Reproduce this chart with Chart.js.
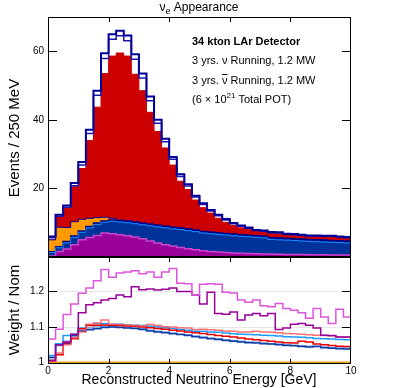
<!DOCTYPE html>
<html>
<head>
<meta charset="utf-8">
<title>nu_e appearance</title>
<script src="https://cdn.jsdelivr.net/npm/chart.js@4.4.1/dist/chart.umd.min.js"></script>
<style>
  body { margin: 0; background: #fff; }
  #wrap { position: relative; width: 399px; height: 388px; }
  canvas { position: absolute; left: 0; }
  #top { top: 0; }
  #bottom { top: 257px; }
</style>
</head>
<body>
<div id="wrap">
  <canvas id="top" width="399" height="258"></canvas>
  <canvas id="bottom" width="399" height="131"></canvas>
</div>
<script>
Chart.defaults.font.family = '"Liberation Sans", Arial, sans-serif';
Chart.defaults.color = '#000';

// 40 bins of 250 MeV, 0 - 10 GeV
const nBins = 40;
const binWidth = 0.25;
const binEdges = [];
for (let i = 0; i <= nBins; i++) binEdges.push(+(i * binWidth).toFixed(2));

const xTickVals = [0, 2, 4, 6, 8, 10];
const topTickVals = [20, 40, 60];
const ratioTickVals = [1, 1.1, 1.2];

// stacked components, events per bin (bottom to top)
const bkgPurple = [0.3, 1.6, 2.3, 3.6, 5.0, 5.7, 6.3, 7.0, 6.8, 6.5, 6.2, 5.8, 5.3, 4.7, 4.1, 3.6, 3.2, 2.8, 2.4, 2.1,
                   1.8, 1.6, 1.45, 1.3, 1.2, 1.1, 1.0, 0.95, 0.9, 0.85, 0.8, 0.75, 0.72, 0.7, 0.67, 0.65, 0.62, 0.6, 0.58, 0.55];
const bkgBlue = [1.2, 1.4, 2.2, 2.5, 2.6, 3.2, 3.6, 3.5, 4.0, 4.1, 4.2, 4.3, 4.5, 4.8, 5.1, 5.3, 5.4, 5.6, 5.7, 5.7,
                 5.6, 5.6, 5.55, 5.5, 5.4, 5.35, 5.3, 5.2, 5.1, 4.75, 4.7, 4.65, 4.58, 4.45, 4.38, 4.3, 4.23, 4.15, 4.12, 4.05];
const bkgOrange = [3.5, 5.7, 4.1, 4.2, 3.4, 2.4, 1.6, 1.1, 0.5, 0.15, 0.15, 0.15, 0.14, 0.13, 0.12, 0.12, 0.11, 0.11, 0.1, 0.1,
                   0.1, 0.1, 0.1, 0.1, 0.1, 0.1, 0.1, 0.1, 0.1, 0.1, 0.1, 0.1, 0.1, 0.1, 0.1, 0.1, 0.1, 0.1, 0.1, 0.1];
const signalRed = [0, 3.1, 5.6, 10.2, 14.8, 22.7, 32.2, 41.9, 47.3, 48.75, 48.05, 43.05, 38.56, 32.57, 27.28, 22.78, 18.09, 13.59, 11.5, 8.7,
                   6.9, 5.5, 4.2, 3.2, 2.5, 1.95, 1.6, 1.3, 1.25, 1.2, 1.15, 1.1, 1.0, 1.0, 0.95, 0.9, 0.9, 0.85, 0.8, 0.8];

// weighted totals (outlines)
const weightedOuter = [6.0, 12.3, 15.0, 21.6, 27.7, 37.1, 48.5, 59.4, 65.0, 66.0, 64.6, 59.1, 53.5, 46.8, 40.0, 34.5, 29.2, 24.1, 21.2, 17.9,
                       15.7, 13.7, 12.3, 11.1, 9.9, 9.2, 8.6, 7.9, 7.7, 7.3, 7.2, 6.8, 6.7, 6.5, 6.3, 6.3, 6.2, 6.2, 6.0, 5.8];
const weightedInner = [5.6, 11.9, 14.5, 20.8, 26.8, 36.0, 47.2, 57.9, 63.5, 64.5, 63.1, 57.7, 52.2, 45.6, 39.0, 33.6, 28.5, 23.5, 20.7, 17.5,
                       15.3, 13.4, 12.0, 10.8, 9.7, 9.0, 8.4, 7.7, 7.5, 7.1, 7.0, 6.6, 6.5, 6.35, 6.15, 6.15, 6.05, 6.05, 5.85, 5.65];
const blueVarLine = [1.3, 2.7, 4.1, 5.7, 7.2, 8.5, 9.5, 10.1, 10.4, 10.2, 10.0, 9.7, 9.4, 9.1, 8.8, 8.5, 8.2, 8.0, 7.7, 7.4,
                     7.0, 6.8, 6.6, 6.4, 6.2, 6.05, 5.9, 5.75, 5.6, 5.1, 5.0, 4.9, 4.8, 4.65, 4.55, 4.45, 4.35, 4.25, 4.2, 4.1];

// weight / nominal ratios
const ratioMagenta = [1.066, 1.094, 1.135, 1.165, 1.195, 1.210, 1.230, 1.262, 1.240, 1.252, 1.255, 1.258, 1.250, 1.255, 1.240, 1.255, 1.265, 1.223, 1.222, 1.190,
                      1.220, 1.222, 1.220, 1.198, 1.196, 1.176, 1.170, 1.176, 1.160, 1.157, 1.166, 1.152, 1.147, 1.140, 1.125, 1.152, 1.128, 1.110, 1.150, 1.128];
const ratioPurple = [1.005, 1.050, 1.058, 1.080, 1.140, 1.163, 1.168, 1.176, 1.180, 1.190, 1.185, 1.213, 1.205, 1.207, 1.204, 1.206, 1.210, 1.200, 1.200, 1.190,
                     1.165, 1.198, 1.138, 1.136, 1.142, 1.120, 1.134, 1.138, 1.132, 1.138, 1.093, 1.097, 1.108, 1.110, 1.105, 1.097, 1.077, 1.076, 1.072, 1.072];
const ratioPink = [1.004, 1.027, 1.050, 1.070, 1.086, 1.108, 1.111, 1.120, 1.108, 1.107, 1.106, 1.104, 1.103, 1.107, 1.104, 1.101, 1.100, 1.098, 1.097, 1.093,
                   1.094, 1.092, 1.091, 1.089, 1.088, 1.086, 1.086, 1.088, 1.086, 1.085, 1.084, 1.082, 1.081, 1.080, 1.078, 1.077, 1.076, 1.075, 1.073, 1.072];
const ratioRed = [1.006, 1.022, 1.056, 1.067, 1.095, 1.104, 1.105, 1.106, 1.105, 1.104, 1.103, 1.102, 1.100, 1.098, 1.096, 1.094, 1.091, 1.089, 1.086, 1.084,
                  1.082, 1.079, 1.076, 1.074, 1.072, 1.069, 1.066, 1.064, 1.062, 1.060, 1.058, 1.056, 1.055, 1.060, 1.058, 1.052, 1.050, 1.048, 1.046, 1.045];
const ratioLightBlue = [1.020, 1.053, 1.076, 1.080, 1.097, 1.106, 1.110, 1.110, 1.108, 1.108, 1.106, 1.105, 1.104, 1.102, 1.100, 1.098, 1.096, 1.093, 1.091, 1.088,
                        1.088, 1.086, 1.085, 1.083, 1.081, 1.080, 1.079, 1.078, 1.077, 1.076, 1.075, 1.073, 1.072, 1.071, 1.070, 1.068, 1.067, 1.066, 1.065, 1.064];
const ratioDarkBlue = [1.015, 1.050, 1.053, 1.076, 1.088, 1.092, 1.095, 1.099, 1.100, 1.099, 1.097, 1.096, 1.093, 1.089, 1.086, 1.084, 1.081, 1.079, 1.076, 1.073,
                       1.070, 1.067, 1.065, 1.062, 1.060, 1.058, 1.056, 1.055, 1.053, 1.052, 1.050, 1.048, 1.047, 1.045, 1.044, 1.045, 1.042, 1.040, 1.039, 1.038];
const ratioSteel = [1.010, 1.048, 1.060, 1.072, 1.091, 1.097, 1.100, 1.102, 1.101, 1.100, 1.099, 1.097, 1.095, 1.091, 1.088, 1.086, 1.083, 1.080, 1.078, 1.075,
                    1.072, 1.069, 1.067, 1.064, 1.062, 1.060, 1.058, 1.057, 1.055, 1.053, 1.052, 1.050, 1.049, 1.047, 1.046, 1.046, 1.044, 1.042, 1.041, 1.040];
const ratioOrange = [1, 1, 1, 1, 1, 1, 1, 1, 1, 1, 1, 1, 1, 1, 1, 1, 1, 1, 1, 1,
                     1, 1, 1, 1, 1, 1, 1, 1, 1, 1, 1, 1, 1, 1, 1, 1, 1, 1, 1, 1];

// stack the components
const cumPurple = bkgPurple.slice();
const cumBlue = cumPurple.map((v, i) => v + bkgBlue[i]);
const cumOrange = cumBlue.map((v, i) => v + bkgOrange[i]);
const cumRed = cumOrange.map((v, i) => v + signalRed[i]);

// histogram as step points on the bin edges
function histPoints(vals) {
    const pts = vals.map((v, i) => ({ x: binEdges[i], y: v }));
    pts.push({ x: binEdges[nBins], y: vals[vals.length - 1] });
    return pts;
}

function stepLine(vals, color, width, order, extra) {
    return Object.assign({
        data: histPoints(vals),
        borderColor: color,
        borderWidth: width,
        stepped: true,
        pointRadius: 0,
        fill: false,
        order: order
    }, extra || {});
}

// frame with inward ticks and y labels, ROOT style
const frameTicks = {
    id: 'frameTicks',
    beforeDatasetsDraw(chart, args, opts) {
        const { ctx, chartArea: a, scales: { y } } = chart;
        if (!opts.grid) return;
        ctx.save();
        ctx.strokeStyle = '#e6e6e6';
        ctx.lineWidth = 1;
        opts.grid.forEach(v => {
            const py = Math.round(y.getPixelForValue(v)) + 0.5;
            ctx.beginPath();
            ctx.moveTo(a.left, py);
            ctx.lineTo(a.right, py);
            ctx.stroke();
        });
        ctx.restore();
    },
    afterDatasetsDraw(chart, args, opts) {
        const { ctx, chartArea: a, scales: { x, y } } = chart;
        ctx.save();
        ctx.strokeStyle = '#000';
        ctx.lineWidth = 1;
        ctx.strokeRect(a.left + 0.5, a.top + 0.5, a.width - 1, a.height - 1);
        ctx.beginPath();
        opts.yTicks.forEach(v => {
            const py = Math.round(y.getPixelForValue(v)) + 0.5;
            ctx.moveTo(a.left, py); ctx.lineTo(a.left + 9, py);
            ctx.moveTo(a.right, py); ctx.lineTo(a.right - 9, py);
        });
        [2, 4, 6, 8].forEach(v => {
            const px = Math.round(x.getPixelForValue(v)) + 0.5;
            ctx.moveTo(px, a.top); ctx.lineTo(px, a.top + 5);
            if (opts.bottomTicks) { ctx.moveTo(px, a.bottom); ctx.lineTo(px, a.bottom - 5); }
        });
        ctx.stroke();

        // y tick labels
        ctx.fillStyle = '#000';
        ctx.font = '10px "Liberation Sans", Arial, sans-serif';
        ctx.textAlign = 'right';
        ctx.textBaseline = 'middle';
        opts.yLabels.forEach(v => {
            ctx.fillText(opts.fmt(v), a.left - 4, y.getPixelForValue(v));
        });
        ctx.restore();
    }
};

const topText = {
    id: 'topText',
    afterDraw(chart) {
        const ctx = chart.ctx;
        const reg = '11px "Liberation Sans", Arial, sans-serif';
        ctx.save();
        ctx.fillStyle = '#000';
        ctx.textBaseline = 'middle';

        // title
        ctx.font = '12px "Liberation Sans", Arial, sans-serif';
        const wNu = ctx.measureText('\u03bd').width;
        const wRest = ctx.measureText(' Appearance').width;
        ctx.font = '9px "Liberation Sans", Arial, sans-serif';
        const wSub = ctx.measureText('e').width;
        let tx = 199 - (wNu + wSub + wRest) / 2;
        ctx.font = '12px "Liberation Sans", Arial, sans-serif';
        ctx.fillText('\u03bd', tx, 8);
        ctx.font = '9px "Liberation Sans", Arial, sans-serif';
        ctx.fillText('e', tx + wNu, 12);
        ctx.font = '12px "Liberation Sans", Arial, sans-serif';
        ctx.fillText(' Appearance', tx + wNu + wSub, 8);

        // info box
        const x0 = 192;
        ctx.font = 'bold 11px "Liberation Sans", Arial, sans-serif';
        ctx.fillText('34 kton LAr Detector', x0, 42);
        ctx.font = reg;
        ctx.fillText('3 yrs. \u03bd Running, 1.2 MW', x0, 61);

        const pre = '3 yrs. ';
        let px = x0;
        ctx.fillText(pre, px, 81);
        px += ctx.measureText(pre).width;
        ctx.fillText('\u03bd', px, 81);
        const nw = ctx.measureText('\u03bd').width;
        ctx.fillRect(px, 74, nw, 1);
        ctx.fillText(' Running, 1.2 MW', px + nw, 81);

        px = x0;
        ctx.fillText('(6 \u00d7 10', px, 100);
        px += ctx.measureText('(6 \u00d7 10').width;
        ctx.font = '8px "Liberation Sans", Arial, sans-serif';
        ctx.fillText('21', px, 96);
        px += ctx.measureText('21').width;
        ctx.font = reg;
        ctx.fillText(' Total POT)', px, 100);

        // y axis title
        ctx.translate(15, 138);
        ctx.rotate(-Math.PI / 2);
        ctx.textAlign = 'center';
        ctx.font = '15px "Liberation Sans", Arial, sans-serif';
        ctx.fillText('Events / 250 MeV', 0, 0);
        ctx.restore();
    }
};

const bottomText = {
    id: 'bottomText',
    afterDraw(chart) {
        const ctx = chart.ctx;
        ctx.save();
        ctx.fillStyle = '#000';
        ctx.textBaseline = 'middle';
        ctx.textAlign = 'center';
        ctx.font = '14px "Liberation Sans", Arial, sans-serif';
        ctx.fillText('Reconstructed Neutrino Energy [GeV]', 199, 123);
        ctx.translate(15, 53);
        ctx.rotate(-Math.PI / 2);
        ctx.font = '15px "Liberation Sans", Arial, sans-serif';
        ctx.fillText('Weight / Nom', 0, 0);
        ctx.restore();
    }
};

// top panel: stacked histogram
new Chart(document.getElementById('top'), {
    type: 'line',
    data: {
        datasets: [
            stepLine(cumRed, '#cc0000', 1, 10, { fill: 'origin', backgroundColor: '#cc0000' }),
            stepLine(cumOrange, '#000099', 1, 9, { fill: 'origin', backgroundColor: '#ff9900' }),
            stepLine(cumBlue, '#000088', 1.5, 8, { fill: 'origin', backgroundColor: '#003399' }),
            stepLine(cumPurple, '#cc44cc', 1.5, 7, { fill: 'origin', backgroundColor: '#990099' }),
            stepLine(blueVarLine, '#1a8cff', 1, 4),
            stepLine(weightedInner, '#1a1aa6', 1.5, 2),
            stepLine(weightedOuter, '#000099', 2, 1)
        ]
    },
    options: {
        responsive: false,
        animation: false,
        events: [],
        layout: { padding: { top: 17, right: 48, bottom: 1, left: 0 } },
        plugins: {
            legend: { display: false },
            tooltip: { enabled: false },
            frameTicks: { yTicks: topTickVals, yLabels: topTickVals, fmt: v => String(v), bottomTicks: false }
        },
        scales: {
            x: { type: 'linear', min: 0, max: 10, display: false },
            y: {
                min: 0,
                max: 70,
                grid: { display: false, drawTicks: false },
                border: { display: false },
                ticks: { display: false },
                afterFit: axis => { axis.width = 48; }
            }
        }
    },
    plugins: [frameTicks, topText]
});

// bottom panel: weight / nominal
new Chart(document.getElementById('bottom'), {
    type: 'line',
    data: {
        datasets: [
            stepLine(ratioOrange, '#e6a000', 2, 9),
            stepLine(ratioSteel, 'rgba(90,130,210,0.8)', 1.5, 8),
            stepLine(ratioDarkBlue, '#0b3da8', 1.5, 7),
            stepLine(ratioLightBlue, '#1e9bff', 1.5, 6),
            stepLine(ratioRed, '#e60000', 1.5, 5),
            stepLine(ratioPink, 'rgba(255,90,90,0.85)', 1.5, 4),
            stepLine(ratioPurple, '#990099', 1.5, 3),
            stepLine(ratioMagenta, '#dd55dd', 1.5, 2)
        ]
    },
    options: {
        responsive: false,
        animation: false,
        events: [],
        layout: { padding: { top: 0, right: 48, bottom: 0, left: 0 } },
        plugins: {
            legend: { display: false },
            tooltip: { enabled: false },
            frameTicks: {
                yTicks: [1.1, 1.2],
                yLabels: ratioTickVals,
                fmt: v => (v === 1 ? '1' : v.toFixed(1)),
                bottomTicks: true,
                grid: [1.1, 1.2]
            }
        },
        scales: {
            x: {
                type: 'linear',
                min: 0,
                max: 10,
                grid: { display: false, drawTicks: false },
                border: { display: false },
                afterBuildTicks: axis => { axis.ticks = xTickVals.map(v => ({ value: v })); },
                afterFit: axis => { axis.height = 24; },
                ticks: { padding: 1, maxRotation: 0, font: { size: 10 } }
            },
            y: {
                min: 0.996,
                max: 1.297,
                grid: { display: false, drawTicks: false },
                border: { display: false },
                ticks: { display: false },
                afterFit: axis => { axis.width = 48; }
            }
        }
    },
    plugins: [frameTicks, bottomText]
});
</script>
</body>
</html>
